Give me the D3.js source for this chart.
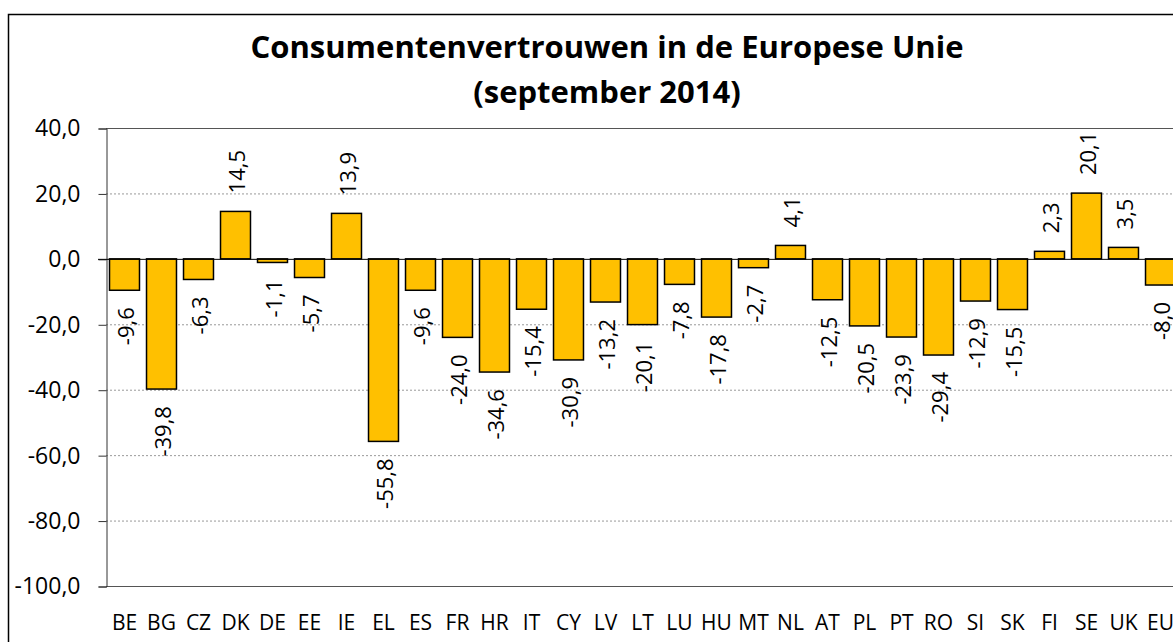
<!DOCTYPE html>
<html>
<head>
<meta charset="utf-8">
<script src="https://cdn.jsdelivr.net/npm/d3@7"></script>
<style>
  body { margin: 0; background: #fff; }
  svg { display: block; font-family: "Open Sans", sans-serif; }
  .grid line { stroke: #999; stroke-dasharray: 2,2; }
</style>
</head>
<body>
<svg id="chart"></svg>
<script>
var countries = ["BE","BG","CZ","DK","DE","EE","IE","EL","ES","FR","HR","IT","CY","LV","LT","LU","HU","MT","NL","AT","PL","PT","RO","SI","SK","FI","SE","UK","EU"]
var confidence = [-9.6,-39.8,-6.3,14.5,-1.1,-5.7,13.9,-55.8,-9.6,-24.0,-34.6,-15.4,-30.9,-13.2,-20.1,-7.8,-17.8,-2.7,4.1,-12.5,-20.5,-23.9,-29.4,-12.9,-15.5,2.3,20.1,3.5,-8.0]
var yTicks = [40,20,0,-20,-40,-60,-80,-100]
var titleLines = ["Consumentenvertrouwen in de Europese Unie","(september 2014)"]

var screen = {width:1173,height:642}
var margins = {left:106,top:128}
var graph = {width:29*37,height:458}

var svg = d3.select("#chart")
    .attr("width",screen.width)
    .attr("height",screen.height)

// chart border
svg.append("rect")
    .attr("x",8.5).attr("y",14.5)
    .attr("width",1250).attr("height",700)
    .attr("fill","none")
    .attr("stroke","black")
    .attr("stroke-width",1.5)

svg.append("g").selectAll("text")
    .data(titleLines)
    .enter()
    .append("text")
    .text(function(d){return d})
    .attr("x",607)
    .attr("y",function(d,i){return 58+i*45})
    .attr("text-anchor","middle")
    .attr("font-weight","bold")
    .attr("font-size",31)

var target = svg.append("g")
    .attr("transform","translate("+margins.left+","+margins.top+")")

var xScale = d3.scaleBand()
    .domain(countries)
    .range([0,graph.width])
    .paddingInner(0.19)
    .paddingOuter(0.095)

var yScale = d3.scaleLinear()
    .domain([-100,40])
    .range([graph.height,0])

var fmt = function(v){return d3.format(".1f")(v).replace(".",",").replace("−","-")}

// gridlines
target.append("g")
    .attr("class","grid")
    .selectAll("line")
    .data(yTicks.filter(function(t){return t!=0 && t!=40 && t!=-100}))
    .enter()
    .append("line")
    .attr("x1",0).attr("x2",graph.width)
    .attr("y1",function(t){return yScale(t)+0.5})
    .attr("y2",function(t){return yScale(t)+0.5})

target.selectAll(".edge")
    .data([40,-100])
    .enter()
    .append("line")
    .attr("x1",0).attr("x2",graph.width)
    .attr("y1",function(t){return yScale(t)+0.5})
    .attr("y2",function(t){return yScale(t)+0.5})
    .attr("stroke","#555")

// y axis
var yAxis = d3.axisLeft(yScale)
    .tickValues(yTicks)
    .tickSize(8)
    .tickPadding(18)
    .tickFormat(fmt)

var yG = target.append("g")
    .attr("transform","translate(0.5,0.5)")
    .call(yAxis)
yG.select(".domain").attr("stroke","#333")
yG.selectAll(".tick line").attr("stroke","#333")
yG.selectAll("text")
    .attr("font-size",23)
    .attr("font-family","Open Sans")
    .attr("fill","black")

// bars
target.selectAll("rect.bar")
    .data(countries)
    .enter()
    .append("rect")
    .attr("class","bar")
    .attr("x",function(c){return xScale(c)})
    .attr("width",xScale.bandwidth())
    .attr("y",function(c,i){return yScale(Math.max(0,confidence[i]))})
    .attr("height",function(c,i){return Math.abs(yScale(confidence[i])-yScale(0))})
    .attr("fill","#FFC000")
    .attr("stroke","black")
    .attr("stroke-width",1.5)

// zero line
target.append("line")
    .attr("x1",-8).attr("x2",graph.width)
    .attr("y1",yScale(0)+0.5).attr("y2",yScale(0)+0.5)
    .attr("stroke","black")

// value labels
target.selectAll("text.val")
    .data(countries)
    .enter()
    .append("text")
    .attr("class","val")
    .text(function(c,i){return fmt(confidence[i])})
    .attr("font-size",22)
    .attr("dominant-baseline","central")
    .attr("text-anchor",function(c,i){return confidence[i]>=0 ? "start" : "end"})
    .attr("transform",function(c,i)
    {
        var v = confidence[i]
        var x = xScale(c)+xScale.bandwidth()/2
        var y = v>=0 ? yScale(v)-18 : yScale(v)+17
        return "translate("+x+","+y+") rotate(-90)"
    })

// category labels
target.selectAll("text.cat")
    .data(countries)
    .enter()
    .append("text")
    .attr("class","cat")
    .text(function(c){return c})
    .attr("x",function(c){return xScale(c)+xScale.bandwidth()/2})
    .attr("y",502)
    .attr("text-anchor","middle")
    .attr("font-size",21)
</script>
</body>
</html>
